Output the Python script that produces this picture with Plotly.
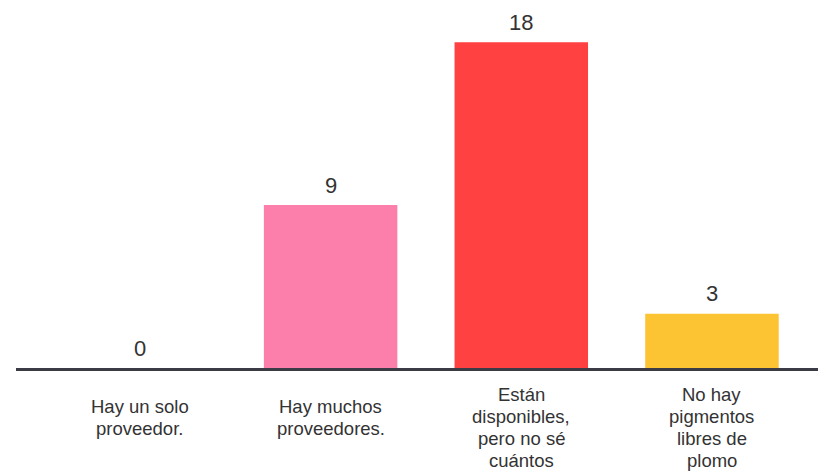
import plotly.graph_objects as go

categories = ["Hay un solo<br>proveedor.", "Hay muchos<br>proveedores.",
              "Están<br>disponibles,<br>pero no sé<br>cuántos",
              "No hay<br>pigmentos<br>libres de<br>plomo"]
values = [0, 9, 18, 3]
colors = ["#ffffff", "#fb7faa", "#ff4141", "#fcc333"]

xs = list(range(len(categories)))

fig = go.Figure(go.Bar(x=xs, y=values, marker=dict(color=colors, line=dict(width=0)),
                       width=0.70, hoverinfo="skip"))

annotations = []
for i, v in enumerate(values):
    annotations.append(dict(x=i, y=v, xref="x", yref="y", text=str(v), showarrow=False,
                            yanchor="middle", yshift=20,
                            font=dict(family="Liberation Sans, Arial, sans-serif", size=22, color="#333333")))
for i, lab in enumerate(categories):
    lines = lab.split("<br>")
    n = len(lines)
    start = 38 - (n - 2) * 6
    for k, ln in enumerate(lines):
        annotations.append(dict(x=i, y=0, xref="x", yref="y", text=ln, showarrow=False,
                                yanchor="middle", yshift=-(start + 22 * k),
                                font=dict(family="Liberation Sans, Arial, sans-serif",
                                          size=18.5, color="#333333")))

fig.update_layout(
    width=818, height=464,
    margin=dict(l=8, r=0, t=0, b=104),
    paper_bgcolor="white", plot_bgcolor="white",
    showlegend=False,
    annotations=annotations,
    xaxis=dict(range=[-0.65, 3.598], showticklabels=False, showgrid=False, zeroline=False,
               showline=True, linewidth=3, linecolor="#3a3b45", ticks=""),
    yaxis=dict(range=[0, 19.89], visible=False, showgrid=False, zeroline=False),
)

fig.write_html("out.html")
